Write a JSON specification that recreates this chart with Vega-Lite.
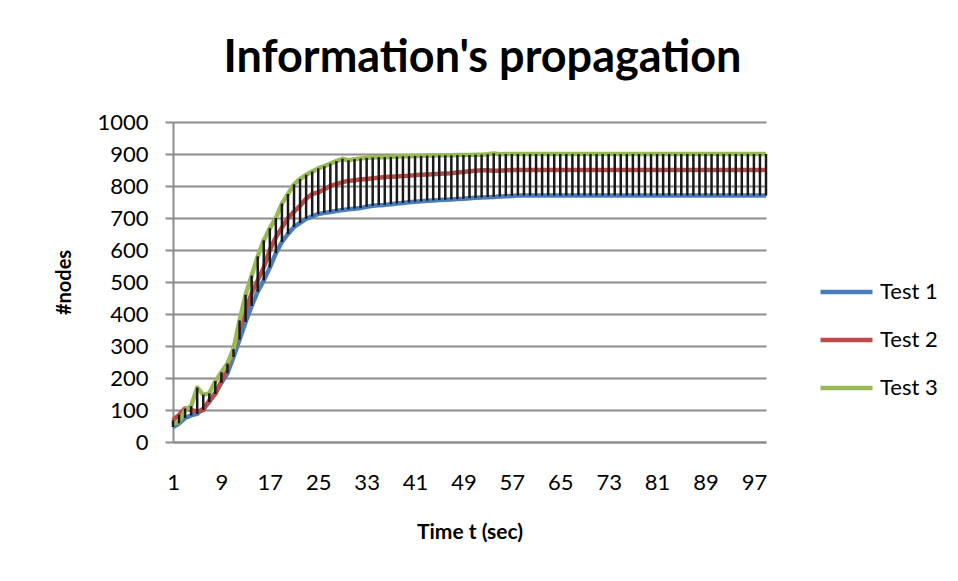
{
  "$schema": "https://vega.github.io/schema/vega-lite/v6.json",
  "width": 593,
  "height": 320,
  "autosize": {"type": "none"},
  "padding": {"left": 173, "top": 122, "right": 192, "bottom": 139},
  "background": "white",
  "config": {
    "font": "Lato",
    "view": {"stroke": null}
  },
  "title": {
    "text": "Information's propagation",
    "fontSize": 45,
    "fontWeight": "bold",
    "color": "black",
    "anchor": "middle",
    "dx": 13,
    "offset": 30
  },
  "data": {
    "values": [
      {"t":1,"Test 1":47,"Test 2":68,"Test 3":57},
      {"t":2,"Test 1":58,"Test 2":85,"Test 3":62},
      {"t":3,"Test 1":75,"Test 2":105,"Test 3":100},
      {"t":4,"Test 1":83,"Test 2":100,"Test 3":112},
      {"t":5,"Test 1":88,"Test 2":95,"Test 3":170},
      {"t":6,"Test 1":105,"Test 2":100,"Test 3":148},
      {"t":7,"Test 1":125,"Test 2":130,"Test 3":152},
      {"t":8,"Test 1":155,"Test 2":150,"Test 3":190},
      {"t":9,"Test 1":185,"Test 2":190,"Test 3":218},
      {"t":10,"Test 1":215,"Test 2":234,"Test 3":245},
      {"t":11,"Test 1":266,"Test 2":290,"Test 3":290},
      {"t":12,"Test 1":320,"Test 2":355,"Test 3":380},
      {"t":13,"Test 1":375,"Test 2":410,"Test 3":460},
      {"t":14,"Test 1":425,"Test 2":465,"Test 3":520},
      {"t":15,"Test 1":470,"Test 2":505,"Test 3":580},
      {"t":16,"Test 1":505,"Test 2":545,"Test 3":630},
      {"t":17,"Test 1":545,"Test 2":600,"Test 3":668},
      {"t":18,"Test 1":590,"Test 2":640,"Test 3":700},
      {"t":19,"Test 1":625,"Test 2":670,"Test 3":745},
      {"t":20,"Test 1":650,"Test 2":700,"Test 3":775},
      {"t":21,"Test 1":672,"Test 2":720,"Test 3":805},
      {"t":22,"Test 1":685,"Test 2":738,"Test 3":822},
      {"t":23,"Test 1":697,"Test 2":760,"Test 3":835},
      {"t":24,"Test 1":705,"Test 2":775,"Test 3":845},
      {"t":25,"Test 1":712,"Test 2":780,"Test 3":855},
      {"t":26,"Test 1":716,"Test 2":790,"Test 3":862},
      {"t":27,"Test 1":719,"Test 2":800,"Test 3":870},
      {"t":28,"Test 1":722,"Test 2":806,"Test 3":878},
      {"t":29,"Test 1":725,"Test 2":812,"Test 3":885},
      {"t":30,"Test 1":727,"Test 2":816,"Test 3":880},
      {"t":31,"Test 1":729,"Test 2":818,"Test 3":884},
      {"t":32,"Test 1":731,"Test 2":820,"Test 3":886},
      {"t":33,"Test 1":735,"Test 2":822,"Test 3":888},
      {"t":34,"Test 1":738,"Test 2":824,"Test 3":889},
      {"t":35,"Test 1":740,"Test 2":826,"Test 3":890},
      {"t":36,"Test 1":741,"Test 2":828,"Test 3":890},
      {"t":37,"Test 1":743,"Test 2":829,"Test 3":891},
      {"t":38,"Test 1":745,"Test 2":830,"Test 3":892},
      {"t":39,"Test 1":747,"Test 2":831,"Test 3":893},
      {"t":40,"Test 1":749,"Test 2":832,"Test 3":893},
      {"t":41,"Test 1":751,"Test 2":834,"Test 3":894},
      {"t":42,"Test 1":752,"Test 2":835,"Test 3":894},
      {"t":43,"Test 1":754,"Test 2":836,"Test 3":895},
      {"t":44,"Test 1":755,"Test 2":837,"Test 3":895},
      {"t":45,"Test 1":756,"Test 2":838,"Test 3":896},
      {"t":46,"Test 1":757,"Test 2":839,"Test 3":896},
      {"t":47,"Test 1":758,"Test 2":840,"Test 3":896},
      {"t":48,"Test 1":759,"Test 2":842,"Test 3":897},
      {"t":49,"Test 1":760,"Test 2":844,"Test 3":897},
      {"t":50,"Test 1":762,"Test 2":846,"Test 3":897},
      {"t":51,"Test 1":763,"Test 2":848,"Test 3":898},
      {"t":52,"Test 1":764,"Test 2":849,"Test 3":898},
      {"t":53,"Test 1":765,"Test 2":849,"Test 3":899},
      {"t":54,"Test 1":766,"Test 2":848,"Test 3":902},
      {"t":55,"Test 1":767,"Test 2":848,"Test 3":899},
      {"t":56,"Test 1":768,"Test 2":849,"Test 3":900},
      {"t":57,"Test 1":769,"Test 2":850,"Test 3":900},
      {"t":58,"Test 1":770,"Test 2":850,"Test 3":900},
      {"t":59,"Test 1":770,"Test 2":850,"Test 3":900},
      {"t":60,"Test 1":770,"Test 2":850,"Test 3":900},
      {"t":61,"Test 1":770,"Test 2":850,"Test 3":900},
      {"t":62,"Test 1":770,"Test 2":850,"Test 3":900},
      {"t":63,"Test 1":770,"Test 2":850,"Test 3":900},
      {"t":64,"Test 1":770,"Test 2":850,"Test 3":900},
      {"t":65,"Test 1":770,"Test 2":850,"Test 3":900},
      {"t":66,"Test 1":770,"Test 2":850,"Test 3":900},
      {"t":67,"Test 1":770,"Test 2":850,"Test 3":900},
      {"t":68,"Test 1":770,"Test 2":850,"Test 3":900},
      {"t":69,"Test 1":770,"Test 2":850,"Test 3":900},
      {"t":70,"Test 1":770,"Test 2":850,"Test 3":900},
      {"t":71,"Test 1":770,"Test 2":850,"Test 3":900},
      {"t":72,"Test 1":770,"Test 2":850,"Test 3":900},
      {"t":73,"Test 1":770,"Test 2":850,"Test 3":900},
      {"t":74,"Test 1":770,"Test 2":850,"Test 3":900},
      {"t":75,"Test 1":770,"Test 2":850,"Test 3":900},
      {"t":76,"Test 1":770,"Test 2":850,"Test 3":900},
      {"t":77,"Test 1":770,"Test 2":850,"Test 3":900},
      {"t":78,"Test 1":770,"Test 2":850,"Test 3":900},
      {"t":79,"Test 1":770,"Test 2":850,"Test 3":900},
      {"t":80,"Test 1":770,"Test 2":850,"Test 3":900},
      {"t":81,"Test 1":770,"Test 2":850,"Test 3":900},
      {"t":82,"Test 1":770,"Test 2":850,"Test 3":900},
      {"t":83,"Test 1":770,"Test 2":850,"Test 3":900},
      {"t":84,"Test 1":770,"Test 2":850,"Test 3":900},
      {"t":85,"Test 1":770,"Test 2":850,"Test 3":900},
      {"t":86,"Test 1":770,"Test 2":850,"Test 3":900},
      {"t":87,"Test 1":770,"Test 2":850,"Test 3":900},
      {"t":88,"Test 1":770,"Test 2":850,"Test 3":900},
      {"t":89,"Test 1":770,"Test 2":850,"Test 3":900},
      {"t":90,"Test 1":770,"Test 2":850,"Test 3":900},
      {"t":91,"Test 1":770,"Test 2":850,"Test 3":900},
      {"t":92,"Test 1":770,"Test 2":850,"Test 3":900},
      {"t":93,"Test 1":770,"Test 2":850,"Test 3":900},
      {"t":94,"Test 1":770,"Test 2":850,"Test 3":900},
      {"t":95,"Test 1":770,"Test 2":850,"Test 3":900},
      {"t":96,"Test 1":770,"Test 2":850,"Test 3":900},
      {"t":97,"Test 1":770,"Test 2":850,"Test 3":900},
      {"t":98,"Test 1":770,"Test 2":850,"Test 3":900},
      {"t":99,"Test 1":770,"Test 2":850,"Test 3":900}
    ]
  },
  "transform": [
    {"fold": ["Test 1", "Test 2", "Test 3"], "as": ["series", "value"]}
  ],
  "encoding": {
    "x": {
      "field": "t",
      "type": "quantitative",
      "scale": {"domain": [1, 99], "nice": false, "zero": false},
      "axis": {
        "title": "Time t (sec)",
        "values": [1, 9, 17, 25, 33, 41, 49, 57, 65, 73, 81, 89, 97],
        "grid": false,
        "ticks": false,
        "domainColor": "#8c8c8c",
        "domainWidth": 2,
        "labelFontSize": 22,
        "labelColor": "black",
        "labelPadding": 30,
        "labelFlush": false,
        "labelOverlap": false,
        "titleFontSize": 21,
        "titleFontWeight": "bold",
        "titleColor": "black",
        "titlePadding": 28
      }
    },
    "y": {
      "field": "value",
      "type": "quantitative",
      "scale": {"domain": [0, 1000], "nice": false},
      "axis": {
        "title": "#nodes",
        "values": [0, 100, 200, 300, 400, 500, 600, 700, 800, 900, 1000],
        "format": "d",
        "labelOverlap": false,
        "grid": true,
        "gridColor": "#8c8c8c",
        "gridWidth": 2,
        "domainColor": "#8c8c8c",
        "domainWidth": 2,
        "tickColor": "#8c8c8c",
        "tickWidth": 2,
        "tickSize": 8,
        "labelFontSize": 22,
        "labelColor": "black",
        "labelPadding": 17,
        "titleFontSize": 20,
        "titleFontWeight": "bold",
        "titleColor": "black",
        "titlePadding": 22
      }
    }
  },
  "layer": [
    {
      "mark": {"type": "line", "strokeWidth": 4.5, "strokeJoin": "round"},
      "encoding": {
        "color": {
          "field": "series",
          "type": "nominal",
          "scale": {
            "domain": ["Test 1", "Test 2", "Test 3"],
            "range": ["#4a7ebb", "#be4b48", "#98b954"]
          },
          "legend": {
            "title": null,
            "orient": "none",
            "legendX": 645,
            "legendY": 146,
            "symbolType": "stroke",
            "symbolSize": 2704,
            "symbolStrokeWidth": 4.5,
            "clipHeight": 48,
            "rowPadding": 0,
            "labelFontSize": 22,
            "labelColor": "black",
            "labelOffset": 5
          }
        }
      }
    },
    {
      "transform": [
        {"aggregate": [
          {"op": "min", "field": "value", "as": "value"},
          {"op": "max", "field": "value", "as": "hi"}
        ], "groupby": ["t"]}
      ],
      "mark": {"type": "rule", "color": "#1a1a1a", "strokeWidth": 2.5},
      "encoding": {
        "y2": {"field": "hi"}
      }
    }
  ]
}
